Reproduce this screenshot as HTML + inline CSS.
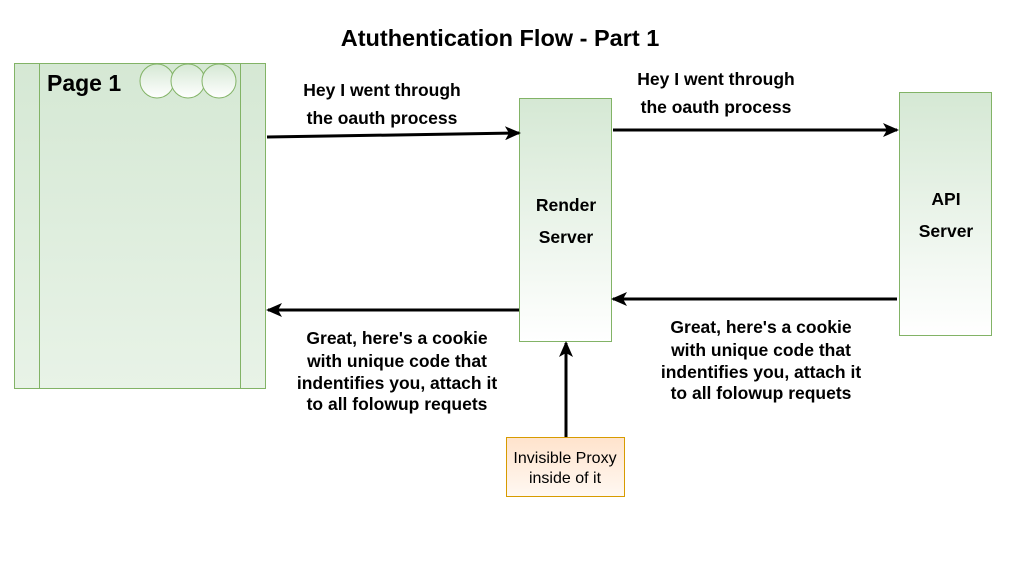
<!DOCTYPE html>
<html><head><style>
body{margin:0;width:1035px;height:566px;background:#fff;overflow:hidden;font-family:"Liberation Sans",sans-serif}
</style></head><body>
<svg width="1035" height="566" xmlns="http://www.w3.org/2000/svg" font-family="Liberation Sans, sans-serif">
<defs>
<linearGradient id="g" x1="0" y1="0" x2="0" y2="1"><stop offset="0" stop-color="#d5e8d4"/><stop offset="1" stop-color="#ffffff"/></linearGradient>
<linearGradient id="gp" x1="0" y1="0" x2="0" y2="1"><stop offset="0" stop-color="#d5e8d4"/><stop offset="1" stop-color="#e8f3e7"/></linearGradient>
<linearGradient id="o" x1="0" y1="0" x2="0" y2="1"><stop offset="0" stop-color="#ffe3cc"/><stop offset="1" stop-color="#fff8f2"/></linearGradient>
<marker id="a" markerWidth="16" markerHeight="14" refX="14" refY="7" orient="auto" markerUnits="userSpaceOnUse"><path d="M0,0 L16,7 L0,14 L4,7 Z" fill="#000"/></marker>
</defs>
<text x="500" y="46" text-anchor="middle" font-size="23.5" font-weight="bold">Atuthentication Flow - Part 1</text>
<rect x="14.5" y="63.5" width="251" height="325" fill="url(#gp)" stroke="#82b366"/>
<line x1="39.5" y1="63.5" x2="39.5" y2="388.5" stroke="#82b366"/>
<line x1="240.5" y1="63.5" x2="240.5" y2="388.5" stroke="#82b366"/>
<text x="47" y="91" font-size="23" font-weight="bold">Page 1</text>
<circle cx="157" cy="81" r="17" fill="url(#g)" stroke="#82b366"/>
<circle cx="188" cy="81" r="17" fill="url(#g)" stroke="#82b366"/>
<circle cx="219" cy="81" r="17" fill="url(#g)" stroke="#82b366"/>
<rect x="519.5" y="98.5" width="92" height="243" fill="url(#g)" stroke="#82b366"/>
<text x="566" y="211" text-anchor="middle" font-size="17.5" font-weight="bold">Render</text>
<text x="566" y="243" text-anchor="middle" font-size="17.5" font-weight="bold">Server</text>
<rect x="899.5" y="92.5" width="92" height="243" fill="url(#g)" stroke="#82b366"/>
<text x="946" y="205" text-anchor="middle" font-size="17.5" font-weight="bold">API</text>
<text x="946" y="237" text-anchor="middle" font-size="17.5" font-weight="bold">Server</text>
<rect x="506.5" y="437.5" width="118" height="59" fill="url(#o)" stroke="#d79b00"/>
<text x="565" y="463" text-anchor="middle" font-size="16">Invisible Proxy</text>
<text x="565" y="483" text-anchor="middle" font-size="16">inside of it</text>
<g stroke="#000" stroke-width="3" fill="none">
<line x1="267" y1="137" x2="519" y2="133" marker-end="url(#a)"/>
<line x1="613" y1="130" x2="897" y2="130" marker-end="url(#a)"/>
<line x1="897" y1="299" x2="613" y2="299" marker-end="url(#a)"/>
<line x1="519" y1="310" x2="268" y2="310" marker-end="url(#a)"/>
<line x1="566" y1="437" x2="566" y2="343" marker-end="url(#a)"/>
</g>
<g font-size="17.5" font-weight="bold" text-anchor="middle">
<text x="382" y="96">Hey I went through</text>
<text x="382" y="124">the oauth process</text>
<text x="716" y="85">Hey I went through</text>
<text x="716" y="113">the oauth process</text>
</g>
<g font-size="17.5" font-weight="bold" text-anchor="middle">
<text x="397" y="344">Great, here's a cookie</text>
<text x="397" y="367">with unique code that</text>
<text x="397" y="389">indentifies you, attach it</text>
<text x="397" y="410">to all folowup requets</text>
<text x="761" y="333">Great, here's a cookie</text>
<text x="761" y="356">with unique code that</text>
<text x="761" y="378">indentifies you, attach it</text>
<text x="761" y="399">to all folowup requets</text>
</g>
</svg>
</body></html>
